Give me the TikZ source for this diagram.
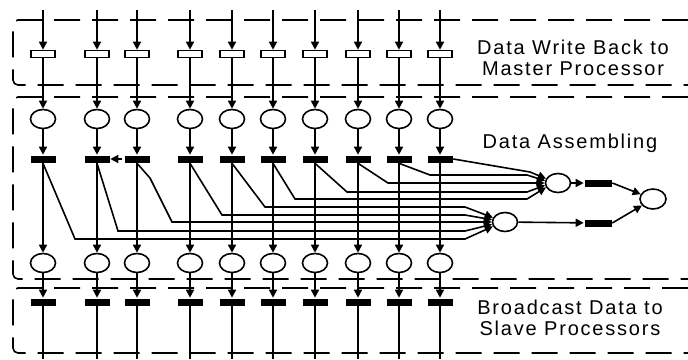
\documentclass[tikz,border=0pt]{standalone}
\usepackage{fontspec}
\newfontfamily\labelfont{Liberation Sans}[LetterSpace=9]
\usetikzlibrary{arrows.meta,positioning,shapes.geometric}
\tikzset{
  arr/.style={-{Triangle[length=8pt,width=8pt]}},
  place/.style={draw, ellipse, minimum width=25pt, minimum height=19pt, inner sep=0pt, fill=white},
  tbar/.style={fill=black, minimum width=25pt, minimum height=7pt, inner sep=0pt},
  wbar/.style={draw, fill=white, minimum width=24pt, minimum height=7pt, inner sep=0pt},
  zone/.style={dash pattern=on 26pt off 12pt, rounded corners=5pt},
  lbl/.style={font=\labelfont\fontsize{20}{21}\selectfont, align=center, inner sep=0pt}
}
\begin{document}
\begin{tikzpicture}[x=1pt, y=-1pt, line width=1.6pt]
    \useasboundingbox (0,0) rectangle (688,359);
    \draw[zone] (688,20) -- (13,20) -- (13,85) -- (688,85);
    \draw[zone] (688,97) -- (13,97) -- (13,279) -- (688,279);
    \draw[zone] (688,288) -- (13,288) -- (13,353) -- (688,353);
    \foreach \x [count=\i] in {43,97,137,190,232,273,315,358,399,440} {
        \coordinate (top\i) at (\x,10);
        \coordinate (bot\i) at (\x,359);
        \node[wbar] (w\i) at (\x,54) {};
        \node[place] (p\i) at (\x,119) {};
        \node[tbar] (t\i) at (\x,159) {};
        \node[place] (q\i) at (\x,263) {};
        \node[tbar] (s\i) at (\x,302) {};
        \draw[arr] (top\i) -- (w\i);
        \draw[arr] (w\i) -- (p\i);
        \draw[arr] (p\i) -- (t\i);
        \draw[arr] (t\i) -- (q\i);
        \draw[arr] (q\i) -- (s\i);
        \draw (s\i) -- (bot\i);
    }
    \node[place] (m1) at (558,183) {};
    \node[place] (m2) at (505,222) {};
    \node[tbar, minimum width=27pt] (r1) at (598,183) {};
    \node[tbar, minimum width=27pt] (r2) at (598,223) {};
    \node[place, minimum width=26pt, minimum height=20pt] (f) at (653,199) {};
    \foreach \i/\kx/\h/\bx/\m/\a in {1/75/239/465/m2/200, 2/118/231/465/m2/190,
        4/222/215/465/m2/170, 5/265/207/465/m2/160, 6/295/199/527/m1/200,
        7/347/192/527/m1/190, 8/388/183/527/m1/180, 9/430/175/527/m1/170}
        \draw[arr] (t\i.south) -- (\kx,\h) -- (\bx,\h) -- (\m.\a);
    \draw[arr] (t3.south) -- (150,178) -- (172,222) -- (465,222) -- (m2.180);
    \draw[arr] (t10.east) -- (530,172) -- (m1.160);
    \coordinate (k2) at (122,159);
    \draw[arr] (k2) -- (t2.east);
    \draw[arr] (m1) -- (r1);
    \draw[arr] (m2) -- (r2);
    \draw[arr] (r1.east) -- (f);
    \draw[arr] (r2.east) -- (f);
    \node[lbl] (wb) at (573,58) {Data Write Back to\\Master Processor};
    \node[lbl] (da) at (570,143) {Data Assembling};
    \node[lbl] (bc) at (570,318) {Broadcast Data to\\Slave Processors};
\end{tikzpicture}
\end{document}
